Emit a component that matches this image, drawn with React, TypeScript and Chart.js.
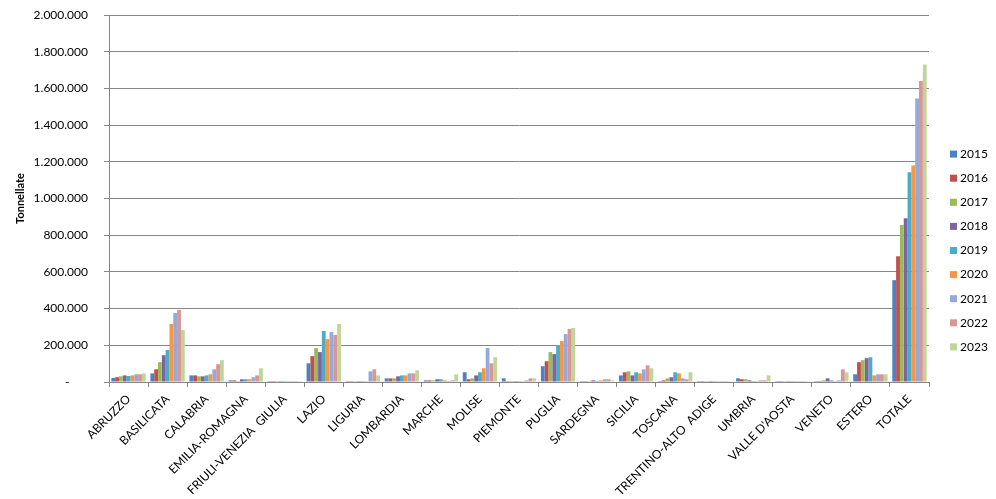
import React, { useEffect, useRef } from "react";
import { Chart, registerables } from "chart.js";

Chart.register(...registerables);

const categories = [
  "ABRUZZO", "BASILICATA", "CALABRIA", "EMILIA-ROMAGNA", "FRIULI-VENEZIA  GIULIA",
  "LAZIO", "LIGURIA", "LOMBARDIA", "MARCHE", "MOLISE", "PIEMONTE", "PUGLIA",
  "SARDEGNA", "SICILIA", "TOSCANA", "TRENTINO-ALTO  ADIGE", "UMBRIA",
  "VALLE D'AOSTA", "VENETO", "ESTERO", "TOTALE",
];

const years = ["2015", "2016", "2017", "2018", "2019", "2020", "2021", "2022", "2023"];

const colors = ["#4F81BD", "#C0504D", "#9BBB59", "#8064A2", "#4BACC6", "#F79646", "#97A9D9", "#D99694", "#C0D59A"];

// values per region, columns = 2015..2023 (tonnes)
const abruzzo = [22000, 26000, 31000, 36000, 33000, 36000, 42000, 42000, 47000];
const basilicata = [47000, 69000, 108000, 146000, 174000, 316000, 376000, 393000, 283000];
const calabria = [36000, 36000, 31000, 31000, 36000, 42000, 69000, 97000, 119000];
const emiliaRomagna = [9000, 9000, 5000, 15000, 15000, 15000, 26000, 36000, 75000];
const friuli = [5000, 5000, 5000, 5000, 5000, 5000, 5000, 5000, 5000];
const lazio = [102000, 141000, 185000, 163000, 278000, 234000, 272000, 256000, 316000];
const liguria = [5000, 5000, 5000, 5000, 5000, 5000, 58000, 69000, 36000];
const lombardia = [20000, 20000, 20000, 31000, 36000, 36000, 47000, 47000, 64000];
const marche = [9000, 9000, 9000, 15000, 15000, 9000, 5000, 9000, 42000];
const molise = [53000, 15000, 20000, 36000, 53000, 75000, 185000, 102000, 135000];
const piemonte = [20000, 5000, 5000, 5000, 5000, 5000, 9000, 20000, 20000];
const puglia = [86000, 113000, 163000, 152000, 201000, 223000, 261000, 289000, 294000];
const sardegna = [5000, 5000, 5000, 9000, 5000, 9000, 15000, 15000, 9000];
const sicilia = [36000, 53000, 58000, 36000, 53000, 47000, 69000, 91000, 75000];
const toscana = [5000, 9000, 20000, 26000, 53000, 47000, 20000, 15000, 53000];
const trentino = [5000, 5000, 5000, 5000, 5000, 5000, 5000, 5000, 5000];
const umbria = [20000, 15000, 15000, 9000, 5000, 5000, 9000, 9000, 36000];
const valleAosta = [5000, 5000, 5000, 5000, 5000, 5000, 5000, 5000, 5000];
const veneto = [5000, 5000, 9000, 20000, 9000, 5000, 9000, 69000, 53000];
const estero = [42000, 108000, 119000, 130000, 135000, 36000, 42000, 42000, 42000];
const totale = [555000, 685000, 855000, 893000, 1143000, 1180000, 1545000, 1640000, 1730000];

const rows = [
  abruzzo, basilicata, calabria, emiliaRomagna, friuli, lazio, liguria, lombardia,
  marche, molise, piemonte, puglia, sardegna, sicilia, toscana, trentino, umbria,
  valleAosta, veneto, estero, totale,
];

const yTicks = [0, 200000, 400000, 600000, 800000, 1000000, 1200000, 1400000, 1600000, 1800000, 2000000];

const FONT = "Lato, 'Open Sans', sans-serif";

const formatIt = (v: number) => {
  if (v === 0) return "-      ";
  return String(Math.round(v)).replace(/\B(?=(\d{3})+(?!\d))/g, ".");
};

const legendPlugin = {
  id: "customLegend",
  afterDraw(chart: any) {
    const ctx = chart.ctx;
    const area = chart.chartArea;
    const n = chart.data.datasets.length;
    const step = 24.1;
    const startY = chart.height / 2 + 1 - ((n - 1) * step) / 2;
    const x = area.right + 21;
    ctx.save();
    ctx.font = `12px ${FONT}`;
    ctx.textBaseline = "middle";
    ctx.textAlign = "left";
    chart.data.datasets.forEach((ds: any, i: number) => {
      const y = startY + i * step;
      ctx.fillStyle = ds.backgroundColor;
      ctx.fillRect(x, y - 3.5, 7, 7);
      ctx.fillStyle = "#000";
      ctx.fillText(ds.label, x + 10, y);
    });
    ctx.restore();
  },
};

export default function App() {
  const ref = useRef<HTMLCanvasElement>(null);

  useEffect(() => {
    if (!ref.current) return;
    const datasets = years.map((y, i) => ({
      label: y,
      data: rows.map((r) => r[i]),
      backgroundColor: colors[i],
      borderWidth: 0,
      categoryPercentage: 0.88,
      barPercentage: 1.0,
    }));
    const chart = new Chart(ref.current, {
      type: "bar",
      data: { labels: categories, datasets },
      plugins: [legendPlugin],
      options: {
        responsive: false,
        animation: false,
        layout: { padding: { top: 15, right: 67, left: 0, bottom: 0 } },
        plugins: {
          legend: { display: false },
          tooltip: { enabled: false },
        },
        scales: {
          x: {
            grid: {
              display: true,
              drawOnChartArea: false,
              drawTicks: true,
              tickLength: 5,
              color: "#868686",
              offset: true,
            },
            border: { color: "#868686" },
            ticks: {
              autoSkip: false,
              minRotation: 45,
              maxRotation: 45,
              color: "#000",
              font: { family: FONT, size: 12 },
              padding: 5,
            },
            afterFit: (s: any) => {
              s.height = 117;
            },
          },
          y: {
            min: 0,
            max: 2000000,
            afterBuildTicks: (s: any) => {
              s.ticks = yTicks.map((v) => ({ value: v }));
            },
            grid: {
              color: "#868686",
              tickLength: 5,
              drawTicks: true,
            },
            border: { color: "#868686" },
            ticks: {
              color: "#000",
              font: { family: FONT, size: 12 },
              padding: 16,
              callback: (v: any) => formatIt(Number(v)),
            },
            title: {
              display: true,
              text: "Tonnellate",
              color: "#000",
              font: { family: FONT, size: 11, weight: "bold" },
              padding: { top: 14, bottom: 0 },
            },
            afterFit: (s: any) => {
              s.width = 109;
              s.paddingTop = 0;
            },
          },
        },
      },
    });
    return () => chart.destroy();
  }, []);

  return (
    <div style={{ position: "fixed", left: 0, top: 0, width: 996, height: 499, background: "#fff" }}>
      <canvas ref={ref} width={996} height={499} style={{ width: 996, height: 499, display: "block" }} />
    </div>
  );
}
